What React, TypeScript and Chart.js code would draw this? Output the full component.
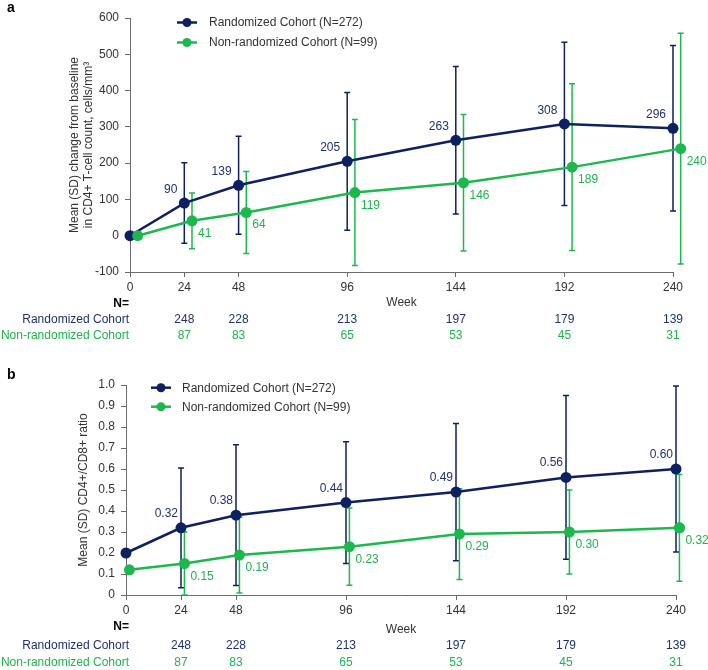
import React, { useEffect, useRef } from "react";
import { Chart, registerables } from "chart.js";
Chart.register(...registerables);

// ---------- data ----------
const weeks = [0, 24, 48, 96, 144, 192, 240];
const xTickValues = [0, 24, 48, 96, 144, 192, 240];

const cd4TickValues = [-100, 0, 100, 200, 300, 400, 500, 600];
const cd4RandMean = [0, 90, 139, 205, 263, 308, 296];
const cd4RandSD = [null, 111, 135, 190, 203, 225, 228];
const cd4NonRandMean = [0, 41, 64, 119, 146, 189, 240];
const cd4NonRandSD = [null, 77, 113, 201, 188, 230, 318];

const ratioTickValues = [0, 0.1, 0.2, 0.3, 0.4, 0.5, 0.6, 0.7, 0.8, 0.9, 1.0];
const ratioRandMean = [0.2, 0.32, 0.38, 0.44, 0.49, 0.56, 0.6];
const ratioRandSD = [null, 0.285, 0.335, 0.29, 0.327, 0.39, 0.395];
const ratioNonRandMean = [0.12, 0.15, 0.19, 0.23, 0.29, 0.3, 0.32];
const ratioNonRandSD = [null, 0.15, 0.18, 0.184, 0.216, 0.2, 0.254];

const nWeeks = [24, 48, 96, 144, 192, 240];
const nRand = [248, 228, 213, 197, 179, 139];
const nNonRand = [87, 83, 65, 53, 45, 31];

const randLabel = "Randomized Cohort (N=272)";
const nonRandLabel = "Non-randomized Cohort (N=99)";

// ---------- style ----------
const NAVY = "#0d2161";
const NAVY_TEXT = "#1f3170";
const GREEN = "#1cb84e";
const GREEN_TEXT = "#22b24f";
const AXIS = "#6b6b6b";
const TEXT = "#333333";
const FONT = "Liberation Sans, Arial, sans-serif";
const POINT_R = 5.5;

type Spec = {
  id: string;
  panel: string;
  height: number;
  yAxisWidth: number;
  padTop: number;
  padRight: number;
  xAxisHeight: number;
  yMin: number;
  yMax: number;
  yTicks: number[];
  yFmt: (v: number) => string;
  randMean: number[];
  randSD: (number | null)[];
  nonMean: number[];
  nonSD: (number | null)[];
  greenShift: number;
  labelFmt: (v: number) => string;
  blueLabelDx: number;
  blueLabelDy: number;
  titleLines: string[];
  titleX: number[];
  legend: { x0: number; x1: number; tx: number; y1: number; y2: number };
  panelY: number;
  tableY: { n: number; week: number; r1: number; r2: number };
};

function makeChart(canvas: HTMLCanvasElement, s: Spec) {
  const plugin = {
    id: "custom_" + s.id,
    beforeDatasetsDraw(chart: any) {
      const ctx = chart.ctx;
      const xs = chart.scales.x;
      const ys = chart.scales.y;
      const draw = (mean: number[], sd: (number | null)[], shift: number, color: string) => {
        ctx.save();
        ctx.strokeStyle = color;
        ctx.lineWidth = 1.5;
        weeks.forEach((w, i) => {
          const d = sd[i];
          if (d == null) return;
          const x = xs.getPixelForValue(w + shift);
          const lo = Math.max(mean[i] - d, s.yMin);
          const hi = Math.min(mean[i] + d, s.yMax);
          const yHi = ys.getPixelForValue(hi);
          const yLo = ys.getPixelForValue(lo);
          ctx.beginPath();
          ctx.moveTo(x, yHi);
          ctx.lineTo(x, yLo);
          ctx.moveTo(x - 3, yHi);
          ctx.lineTo(x + 3, yHi);
          ctx.moveTo(x - 3, yLo);
          ctx.lineTo(x + 3, yLo);
          ctx.stroke();
        });
        ctx.restore();
      };
      draw(s.randMean, s.randSD, 0, NAVY);
      draw(s.nonMean, s.nonSD, s.greenShift, GREEN);
    },
    afterDatasetsDraw(chart: any) {
      const ctx = chart.ctx;
      const xs = chart.scales.x;
      const ys = chart.scales.y;
      const area = chart.chartArea;
      ctx.save();
      // points that Chart.js skips because they sit just outside the chart area
      chart.data.datasets.forEach((ds: any, di: number) => {
        const meta = chart.getDatasetMeta(di);
        meta.data.forEach((el: any) => {
          if (el.x > area.right + POINT_R / 2 || el.x < area.left - POINT_R / 2) {
            ctx.fillStyle = ds.pointBackgroundColor;
            ctx.beginPath();
            ctx.arc(el.x, el.y, POINT_R, 0, Math.PI * 2);
            ctx.fill();
          }
        });
      });
      ctx.font = "12px " + FONT;
      ctx.textBaseline = "alphabetic";
      weeks.forEach((w, i) => {
        if (i === 0) return;
        const bx = xs.getPixelForValue(w);
        const by = ys.getPixelForValue(s.randMean[i]);
        ctx.fillStyle = NAVY_TEXT;
        ctx.textAlign = "right";
        ctx.fillText(s.labelFmt(s.randMean[i]), bx + s.blueLabelDx, by + s.blueLabelDy);
        const gx = xs.getPixelForValue(w + s.greenShift);
        const gy = ys.getPixelForValue(s.nonMean[i]);
        ctx.fillStyle = GREEN_TEXT;
        ctx.textAlign = "left";
        ctx.fillText(s.labelFmt(s.nonMean[i]), gx + 6, gy + 16);
      });
      ctx.restore();
    },
    afterDraw(chart: any) {
      const ctx = chart.ctx;
      const xs = chart.scales.x;
      const area = chart.chartArea;
      ctx.save();
      // panel label
      ctx.font = "bold 14px " + FONT;
      ctx.fillStyle = "#000";
      ctx.textAlign = "left";
      ctx.textBaseline = "middle";
      ctx.fillText(s.panel, 7, s.panelY);

      // legend
      const L = s.legend;
      const rows: [number, string, string][] = [
        [L.y1, NAVY, randLabel],
        [L.y2, GREEN, nonRandLabel],
      ];
      rows.forEach(([y, c, t]) => {
        ctx.strokeStyle = c;
        ctx.lineWidth = 2.5;
        ctx.beginPath();
        ctx.moveTo(L.x0, y);
        ctx.lineTo(L.x1, y);
        ctx.stroke();
        ctx.fillStyle = c;
        ctx.beginPath();
        ctx.arc((L.x0 + L.x1) / 2, y, 4.5, 0, Math.PI * 2);
        ctx.fill();
        ctx.fillStyle = TEXT;
        ctx.font = "12px " + FONT;
        ctx.textAlign = "left";
        ctx.textBaseline = "middle";
        ctx.fillText(t, L.tx, y + 0.5);
      });

      // y title
      ctx.fillStyle = TEXT;
      ctx.font = "12px " + FONT;
      ctx.textAlign = "center";
      ctx.textBaseline = "middle";
      const yc = (area.top + area.bottom) / 2;
      s.titleLines.forEach((line, k) => {
        ctx.save();
        ctx.translate(s.titleX[k], yc);
        ctx.rotate(-Math.PI / 2);
        ctx.fillText(line, 0, 0);
        ctx.restore();
      });

      // N table
      const T = s.tableY;
      ctx.textBaseline = "middle";
      ctx.textAlign = "center";
      ctx.fillStyle = TEXT;
      ctx.font = "12px " + FONT;
      ctx.fillText("Week", (area.left + area.right) / 2, T.week);
      ctx.textAlign = "right";
      ctx.font = "bold 12px " + FONT;
      ctx.fillStyle = "#000";
      ctx.fillText("N=", 129, T.n);
      ctx.font = "12px " + FONT;
      ctx.fillStyle = NAVY_TEXT;
      ctx.fillText("Randomized Cohort", 129, T.r1);
      ctx.fillStyle = GREEN_TEXT;
      ctx.fillText("Non-randomized Cohort", 129, T.r2);
      ctx.textAlign = "center";
      nWeeks.forEach((w, i) => {
        const x = xs.getPixelForValue(w);
        ctx.fillStyle = NAVY_TEXT;
        ctx.fillText(String(nRand[i]), x, T.r1);
        ctx.fillStyle = GREEN_TEXT;
        ctx.fillText(String(nNonRand[i]), x, T.r2);
      });
      ctx.restore();
    },
  };

  const tickFont = { family: FONT, size: 12 };
  return new Chart(canvas, {
    type: "line",
    data: {
      datasets: [
        {
          label: randLabel,
          data: weeks.map((w, i) => ({ x: w, y: s.randMean[i] })),
          borderColor: NAVY,
          backgroundColor: NAVY,
          pointBackgroundColor: NAVY,
          pointBorderColor: NAVY,
          pointBorderWidth: 0,
          pointRadius: POINT_R,
          borderWidth: 2.5,
          tension: 0,
          clip: false,
          order: 1,
        },
        {
          label: nonRandLabel,
          data: weeks.map((w, i) => ({ x: w + s.greenShift, y: s.nonMean[i] })),
          borderColor: GREEN,
          backgroundColor: GREEN,
          pointBackgroundColor: GREEN,
          pointBorderColor: GREEN,
          pointBorderWidth: 0,
          pointRadius: POINT_R,
          borderWidth: 2.5,
          tension: 0,
          clip: false,
          order: 0,
        },
      ],
    },
    options: {
      responsive: false,
      animation: false,
      devicePixelRatio: 1,
      layout: { padding: { left: 0, right: s.padRight, top: s.padTop, bottom: 0 } },
      plugins: { legend: { display: false }, tooltip: { enabled: false } },
      scales: {
        x: {
          type: "linear",
          min: 0,
          max: 240,
          afterBuildTicks: (sc: any) => {
            sc.ticks = xTickValues.map((v) => ({ value: v }));
          },
          afterFit: (sc: any) => {
            sc.height = s.xAxisHeight;
          },
          ticks: { font: tickFont, color: TEXT, padding: 3, maxRotation: 0, autoSkip: false },
          grid: { display: true, drawOnChartArea: false, drawTicks: true, tickLength: 5, color: AXIS },
          border: { display: true, color: AXIS, width: 1 },
        },
        y: {
          type: "linear",
          min: s.yMin,
          max: s.yMax,
          afterBuildTicks: (sc: any) => {
            sc.ticks = s.yTicks.map((v) => ({ value: v }));
          },
          afterFit: (sc: any) => {
            sc.width = s.yAxisWidth;
          },
          ticks: {
            font: tickFont,
            color: TEXT,
            padding: 6,
            autoSkip: false,
            callback: (v: any) => s.yFmt(Number(v)),
          },
          grid: { display: true, drawOnChartArea: false, drawTicks: true, tickLength: 5, color: AXIS },
          border: { display: true, color: AXIS, width: 1 },
        },
      },
    },
    plugins: [plugin],
  } as any);
}

const topSpec: Spec = {
  id: "a",
  panel: "a",
  height: 352,
  yAxisWidth: 130,
  padTop: 18,
  padRight: 35,
  xAxisHeight: 80,
  yMin: -100,
  yMax: 600,
  yTicks: cd4TickValues,
  yFmt: (v) => String(Math.round(v)),
  randMean: cd4RandMean,
  randSD: cd4RandSD,
  nonMean: cd4NonRandMean,
  nonSD: cd4NonRandSD,
  greenShift: 3.4,
  labelFmt: (v) => String(v),
  blueLabelDx: -7,
  blueLabelDy: -10,
  titleLines: ["Mean (SD) change from baseline", "in CD4+ T-cell count, cells/mm\u00B3"],
  titleX: [75, 89],
  legend: { x0: 177, x1: 197, tx: 209, y1: 22.5, y2: 42.5 },
  panelY: 8,
  tableY: { n: 304, week: 303, r1: 320, r2: 336 },
};

const bottomSpec: Spec = {
  id: "b",
  panel: "b",
  height: 318,
  yAxisWidth: 126,
  padTop: 33,
  padRight: 32,
  xAxisHeight: 75,
  yMin: 0,
  yMax: 1,
  yTicks: ratioTickValues,
  yFmt: (v) => (v === 0 ? "0" : v.toFixed(1)),
  randMean: ratioRandMean,
  randSD: ratioRandSD,
  nonMean: ratioNonRandMean,
  nonSD: ratioNonRandSD,
  greenShift: 1.5,
  labelFmt: (v) => v.toFixed(2),
  blueLabelDx: -3,
  blueLabelDy: -11,
  titleLines: ["Mean (SD) CD4+/CD8+ ratio"],
  titleX: [84],
  legend: { x0: 151, x1: 171, tx: 182, y1: 35.7, y2: 54.7 },
  panelY: 23,
  tableY: { n: 275, week: 278, r1: 294, r2: 311 },
};

function Panel({ spec }: { spec: Spec }) {
  const ref = useRef<HTMLCanvasElement | null>(null);
  useEffect(() => {
    if (!ref.current) return;
    const c = makeChart(ref.current, spec);
    return () => c.destroy();
  }, [spec]);
  return <canvas ref={ref} width={708} height={spec.height} style={{ display: "block", width: 708, height: spec.height }} />;
}

export default function App() {
  return (
    <div style={{ position: "absolute", left: 0, top: 0, width: 708, height: 670, background: "#fff" }}>
      <Panel spec={topSpec} />
      <Panel spec={bottomSpec} />
    </div>
  );
}
